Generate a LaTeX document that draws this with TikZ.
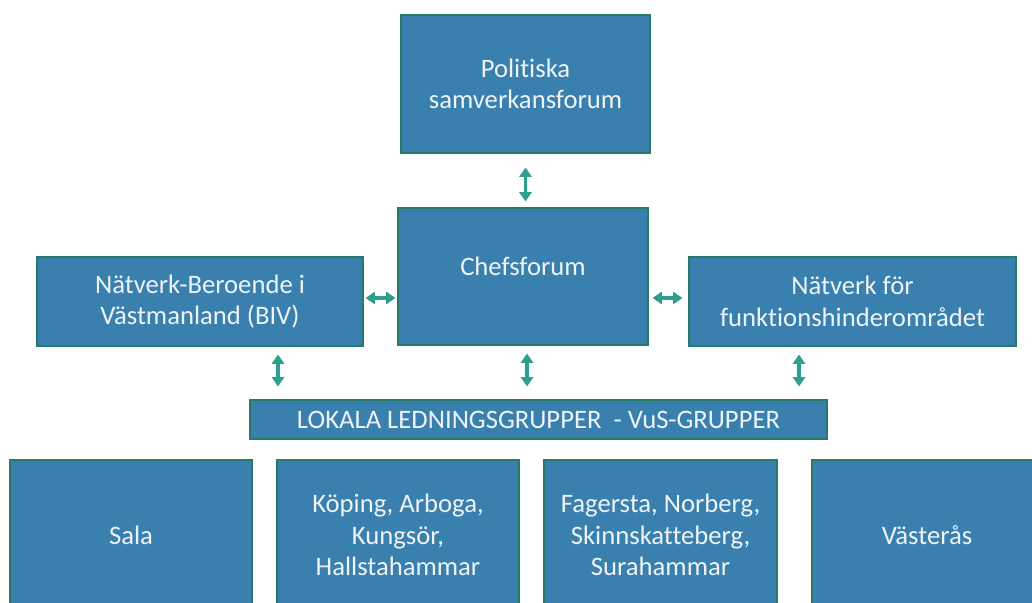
\documentclass[tikz,border=0pt]{standalone}
\usepackage{fontspec}
\setmainfont{Carlito}[Ligatures={NoCommon,NoRequired,NoContextual},
  Contextuals=NoAlternate]
\usepackage{tikz}
\usetikzlibrary{
  arrows.meta,
  calc
}
\definecolor{boxfill}{HTML}{3A80AE}
\definecolor{boxline}{HTML}{2A786A}
\definecolor{arrteal}{HTML}{2E9E8D}
\definecolor{boxtext}{HTML}{EEF3F8}
\newlength{\px}
\setlength{\px}{0.75pt}

\begin{document}
\begin{tikzpicture}[
  x=0.75pt, y=-0.75pt,
  forum/.style={draw=boxline, line width=2.2pt, fill=boxfill, text=boxtext,
                font=\fontsize{20}{23.5}\selectfont, align=center,
                inner sep=0pt},
  link/.style={draw=arrteal, line width=2.3pt,
               {Triangle[length=7pt,width=9pt]}-{Triangle[length=7pt,width=9pt]}},
]
  \useasboundingbox (0,0) rectangle (1032,603);
  \clip (0,0) rectangle (1032,603);

  % Top levels
  \node[forum, minimum width=249\px, minimum height=138\px] (pol)
    at (525.5,84) {Politiska\\samverkansforum};
  \node[forum, minimum width=250\px, minimum height=137\px, text depth=16pt] (chef)
    at (523,276.5) {Chefsforum};
  \node[forum, minimum width=326\px, minimum height=89\px] (biv)
    at (200,301.5) {Nätverk-Beroende i\\Västmanland (BIV)};
  \node[forum, minimum width=327\px, minimum height=89\px] (nfh)
    at (852.5,301.5) {Nätverk för\\funktionshinderområdet};

  % Local groups
  \node[forum, minimum width=577\px, minimum height=39\px] (lok)
    at (538.5,419.5) {LOKALA LEDNINGSGRUPPER \ - VuS-GRUPPER};
  \node[forum, minimum width=242\px, minimum height=150\px] (sala)
    at (131,535) {Sala};
  \node[forum, minimum width=242\px, minimum height=150\px] (kop)
    at (398,535) {Köping, Arboga,\\Kungsör,\\Hallstahammar};
  \node[forum, minimum width=233\px, minimum height=150\px] (fag)
    at (660.5,535) {Fagersta, Norberg,\\Skinnskatteberg,\\Surahammar};
  \node[forum, minimum width=230\px, minimum height=150\px] (vas)
    at (927,535) {Västerås};

  % Links
  \draw[link, shorten <=13\px, shorten >=5\px] (pol.south) -- (pol.south |- chef.north);
  \draw[link, shorten <=1\px, shorten >=1\px]
    ([yshift=3.5\px]biv.east) -- ([yshift=3.5\px]biv.east -| chef.west);
  \draw[link, shorten <=3\px, shorten >=5\px]
    ([yshift=3.5\px]nfh.west -| chef.east) -- ([yshift=3.5\px]nfh.west);
  \draw[link, shorten <=7\px, shorten >=12\px]
    ([xshift=78\px]biv.south) -- ([xshift=78\px]biv.south |- lok.north);
  \draw[link, shorten <=7\px, shorten >=12\px]
    ([xshift=4\px]chef.south) -- ([xshift=4\px]chef.south |- lok.north);
  \draw[link, shorten <=7\px, shorten >=12\px]
    ([xshift=-53.5\px]nfh.south) -- ([xshift=-53.5\px]nfh.south |- lok.north);
\end{tikzpicture}
\end{document}
